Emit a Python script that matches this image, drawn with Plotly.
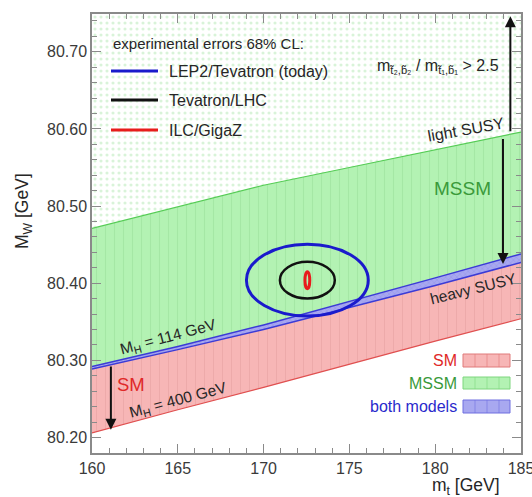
import plotly.graph_objects as go

# ---------------- data ----------------
mt_grid = [160, 165, 170, 175, 180, 185]
mssm_upper = [80.471, 80.499, 80.527, 80.550, 80.573, 80.596]   # MSSM upper edge (light SUSY)
both_upper = [80.292, 80.318, 80.346, 80.376, 80.407, 80.438]   # overlap band top (heavy SUSY)
sm_upper = [80.289, 80.314, 80.340, 80.368, 80.397, 80.427]     # SM, M_H = 114 GeV
sm_lower = [80.206, 80.236, 80.265, 80.295, 80.325, 80.354]     # SM, M_H = 400 GeV

x_range = [160, 185]
y_range = [80.18, 80.749]

# experimental 68% CL ellipses: centre and half-widths
ell_mt = 172.55
ell_mw = 80.404
ell_names = ["LEP2/Tevatron (today)", "Tevatron/LHC", "ILC/GigaZ"]
ell_dmt = [3.55, 1.60, 0.14]
ell_dmw = [0.0465, 0.0238, 0.011]
ell_colors = ["#1a1acc", "#111111", "#e81c1c"]
ell_widths = [3, 2.5, 3]

x_ticks = [160, 165, 170, 175, 180, 185]
y_ticks = [80.20, 80.30, 80.40, 80.50, 80.60, 80.70]

# arrows (mt, MW tail, MW head)
arrows = [
    (184.38, 80.595, 80.746),
    (183.95, 80.589, 80.425),
    (161.10, 80.294, 80.210),
]

FONT = "Arial, Liberation Sans, Helvetica, sans-serif"
TXT = "#262626"

fig = go.Figure()

def band(upper, lower):
    xs = list(mt_grid) + list(mt_grid)[::-1]
    ys = list(upper) + list(lower)[::-1]
    return xs, ys

# top dotted region (m_t2/m_t1 > 2.5)
xs, ys = band([y_range[1]] * len(mt_grid), mssm_upper)
fig.add_trace(go.Scatter(x=xs, y=ys, fill="toself", mode="none",
                         fillcolor="white",
                         fillpattern=dict(shape=".", bgcolor="white", fgcolor="#b4e8b4",
                                          size=6, solidity=0.22),
                         hoverinfo="skip", showlegend=False))
# MSSM region
xs, ys = band(mssm_upper, both_upper)
fig.add_trace(go.Scatter(x=xs, y=ys, fill="toself", mode="none",
                         fillpattern=dict(shape="|", bgcolor="#b3f2b3", fgcolor="#97db97",
                                          size=9, solidity=0.12),
                         hoverinfo="skip", showlegend=False))
# both models band
xs, ys = band(both_upper, sm_upper)
fig.add_trace(go.Scatter(x=xs, y=ys, fill="toself", mode="none",
                         fillpattern=dict(shape="x", bgcolor="#a8a8f0", fgcolor="#7a7ae0",
                                          size=4, solidity=0.2),
                         hoverinfo="skip", showlegend=False))
# SM region
xs, ys = band(sm_upper, sm_lower)
fig.add_trace(go.Scatter(x=xs, y=ys, fill="toself", mode="none",
                         fillpattern=dict(shape="|", bgcolor="#f7b6b6", fgcolor="#e39e9e",
                                          size=9, solidity=0.12),
                         hoverinfo="skip", showlegend=False))

# boundary lines
fig.add_trace(go.Scatter(x=mt_grid, y=mssm_upper, mode="lines",
                         line=dict(color="#55cc55", width=1.2), hoverinfo="skip", showlegend=False))
fig.add_trace(go.Scatter(x=mt_grid, y=both_upper, mode="lines",
                         line=dict(color="#3b3bd6", width=1.5), hoverinfo="skip", showlegend=False))
fig.add_trace(go.Scatter(x=mt_grid, y=sm_upper, mode="lines",
                         line=dict(color="#3b3bd6", width=1.5), hoverinfo="skip", showlegend=False))
fig.add_trace(go.Scatter(x=mt_grid, y=sm_lower, mode="lines",
                         line=dict(color="#e05050", width=1.2), hoverinfo="skip", showlegend=False))

shapes = []
# ellipses
for dmt, dmw, c, w in zip(ell_dmt, ell_dmw, ell_colors, ell_widths):
    shapes.append(dict(type="circle", xref="x", yref="y",
                       x0=ell_mt - dmt, x1=ell_mt + dmt, y0=ell_mw - dmw, y1=ell_mw + dmw,
                       line=dict(color=c, width=w), layer="above"))

# legend lines (top-left), paper coords
W, H = 429.0, 439.0
def px(x):
    return (x - 92) / W
def py(y):
    return (453 - y) / H

leg_y = [71, 100, 130]
for yy, c in zip(leg_y, ell_colors):
    shapes.append(dict(type="line", xref="paper", yref="paper",
                       x0=px(111), x1=px(158), y0=py(yy), y1=py(yy),
                       line=dict(color=c, width=3), layer="above"))

# bottom-right legend swatches
sw = [(354, 367, "#f7b6b6", "#e07a7a"), (377, 389, "#b3f2b3", "#7fd67f"), (400, 413, "#a8a8f0", "#6e6ee0")]
for y0, y1, fc, lc in sw:
    shapes.append(dict(type="rect", xref="paper", yref="paper",
                       x0=px(463), x1=px(510), y0=py(y1), y1=py(y0),
                       fillcolor=fc, line=dict(color=lc, width=1), layer="above"))
    for xv in [475, 487, 499]:
        shapes.append(dict(type="line", xref="paper", yref="paper",
                           x0=px(xv), x1=px(xv), y0=py(y1), y1=py(y0),
                           line=dict(color=lc, width=0.6), layer="above"))

annotations = []

def label(text, x, y, size, color=TXT, angle=0, xanchor="center"):
    annotations.append(dict(text=text, xref="paper", yref="paper", x=px(x), y=py(y),
                            xanchor=xanchor, yanchor="middle", textangle=angle, showarrow=False,
                            font=dict(family=FONT, size=size, color=color)))

# legend texts
label("experimental errors 68% CL:", 111, 43, 15, xanchor="left")
for yy, name in zip(leg_y, ell_names):
    label(name, 167, yy, 16, xanchor="left")

label("m<sub>t\u0303\u2082,b\u0303\u2082</sub> / m<sub>t\u0303\u2081,b\u0303\u2081</sub> > 2.5", 438, 66, 16)

label("light SUSY", 466, 129, 16, angle=-10)
label("heavy SUSY", 473, 288, 15.5, angle=-14)
label("M<sub>H</sub> = 114 GeV", 168, 338, 15.5, angle=-15)
label("M<sub>H</sub> = 400 GeV", 178, 400, 15.5, angle=-15)
label("MSSM", 462, 188, 19, color="#3a9a3a")
label("SM", 131, 384, 18.5, color="#e02828")

# bottom-right legend labels
for yy, t, c in [(360, "SM", "#e02828"), (383, "MSSM", "#3a9a3a"), (406, "both models", "#2a2acc")]:
    label(t, 459, yy, 16, color=c, xanchor="right")

# arrows
for mt, tail, head in arrows:
    annotations.append(dict(x=mt, y=head, ax=mt, ay=tail, xref="x", yref="y", axref="x", ayref="y",
                            showarrow=True, arrowhead=2, arrowsize=1.1, arrowwidth=2,
                            arrowcolor="#111111", text=""))

# axis titles
label("m<sub>t</sub> [GeV]", 466, 487, 17.5)
label("M<sub>W</sub> [GeV]", 23, 211, 17.5, angle=-90)

axis_common = dict(showgrid=False, zeroline=False, showline=True, linecolor="#8a8a8a", linewidth=1.5,
                   mirror="ticks", ticks="inside", ticklen=9, tickwidth=1.2, tickcolor="#8a8a8a",
                   automargin=False, ticklabeloverflow="allow",
                   tickfont=dict(family=FONT, size=16, color="#3a3a3a"))

fig.update_layout(
    width=532, height=497,
    margin=dict(l=92, r=11, t=14, b=44, autoexpand=False),
    paper_bgcolor="white", plot_bgcolor="white",
    showlegend=False,
    shapes=shapes, annotations=annotations,
    xaxis=dict(range=x_range, tickvals=x_ticks, ticktext=[str(v) for v in x_ticks],
               minor=dict(dtick=1, tick0=160, ticks="inside", ticklen=5, tickcolor="#8a8a8a", tickwidth=1),
               **axis_common),
    yaxis=dict(range=y_range, tickvals=y_ticks, ticktext=["%.2f" % v for v in y_ticks],
               minor=dict(dtick=0.02, tick0=80.2, ticks="inside", ticklen=5, tickcolor="#8a8a8a", tickwidth=1),
               **axis_common),
)

# remove the browser's default 8px body margin so the figure fills the window exactly
fig.write_html("out.html", config={"displayModeBar": False},
               post_script="document.body.style.margin='0';document.body.style.overflow='hidden';")
